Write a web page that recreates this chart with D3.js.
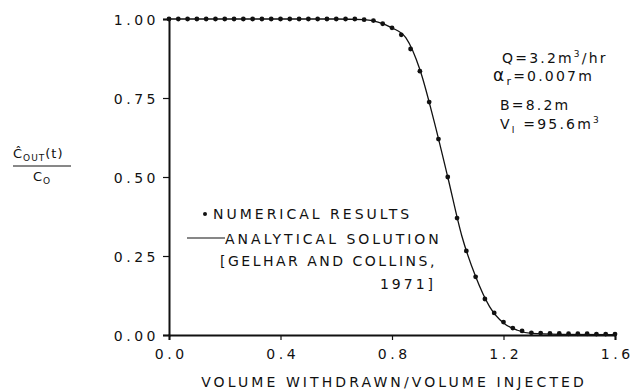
<!DOCTYPE html>
<html><head><meta charset="utf-8">
<script src="https://cdn.jsdelivr.net/npm/d3@7"></script>
<style>body{margin:0;background:#fff}svg{display:block}text{font-family:"DejaVu Sans",sans-serif;fill:#111}</style>
</head><body><svg id="c" width="634" height="391"></svg>
<script>
// Numerical results: x = k/30, k = 0..48
const numX = d3.range(49).map(k => k / 30);
const numY = [1,1,1,1,1,1,1,1,1,1,1,1,1,1,1,1,1,1,1,1,1,0.998,0.995,0.985,0.972,0.95,0.905,0.835,0.737,0.62,0.50,0.37,0.266,0.184,0.114,0.07,0.041,0.022,0.013,0.007,0.006,0.005,0.005,0.004,0.004,0.004,0.003,0.003,0.003];
// Analytical solution
const anaX = [0, 0.6, 0.7, 0.75, 0.8, 0.85, 0.9, 0.95, 1.0, 1.05, 1.1, 1.15, 1.2, 1.25, 1.3, 1.4, 1.6];
const anaY = [1, 1, 0.998, 0.99, 0.972, 0.94, 0.84, 0.68, 0.50, 0.315, 0.185, 0.09, 0.038, 0.015, 0.005, 0.002, 0.001];
const xTicks = [0.0, 0.4, 0.8, 1.2, 1.6];
const yTicks = [0.00, 0.25, 0.50, 0.75, 1.00];

const svg = d3.select("#c");
const x = d3.scaleLinear().domain([0, 1.6]).range([169, 615]);
const y = d3.scaleLinear().domain([0, 1]).range([335, 19]);

// axes
const ya = svg.append("g").attr("transform", "translate(169,0)")
  .call(d3.axisLeft(y).tickValues(yTicks).tickFormat(d3.format(".2f")).tickSize(6).tickPadding(4));
const xa = svg.append("g").attr("transform", "translate(0,335)")
  .call(d3.axisBottom(x).tickValues(xTicks).tickFormat(d3.format(".1f")).tickSize(5).tickPadding(6));
[ya, xa].forEach(g => {
  g.select(".domain").attr("stroke", "#111").attr("stroke-width", 2);
  g.selectAll(".tick line").attr("stroke", "#111").attr("stroke-width", 1.2);
  g.selectAll(".tick text").style("font-size", "14px").style("letter-spacing", "3.5px").attr("fill", "#111");
});
ya.selectAll(".tick text").attr("dy", "0.36em");
xa.selectAll(".tick text").attr("dy", "0.9em").attr("dx", "1.7px");

// analytical line
const line = d3.line().x((d, i) => x(anaX[i])).y(d => y(d)).curve(d3.curveMonotoneX);
svg.append("path").datum(anaY).attr("d", line).attr("fill", "none").attr("stroke", "#111").attr("stroke-width", 1.3);

// numerical dots
svg.append("g").selectAll("circle").data(numY).join("circle")
  .attr("cx", (d, i) => x(numX[i])).attr("cy", d => y(d)).attr("r", 2.4).attr("fill", "#111");

// legend
const lg = svg.append("g").style("font-size", "14px").style("letter-spacing", "3px");
lg.append("circle").attr("cx", 205).attr("cy", 214).attr("r", 2).attr("fill", "#111");
lg.append("text").attr("x", 213).attr("y", 219).text("NUMERICAL RESULTS");
lg.append("line").attr("x1", 187).attr("x2", 225).attr("y1", 238).attr("y2", 238).attr("stroke", "#111").attr("stroke-width", 1.2);
lg.append("text").attr("x", 225).attr("y", 244).text("ANALYTICAL SOLUTION");
lg.append("text").attr("x", 220).attr("y", 266).style("letter-spacing", "2.5px").text("[GELHAR AND COLLINS,");
lg.append("text").attr("x", 436).attr("y", 289).attr("text-anchor", "end").text("1971]");

// annotation
const an = svg.append("g").style("font-size", "14px").style("letter-spacing", "2.2px");
const t1 = an.append("text").attr("x", 502).attr("y", 63);
t1.append("tspan").text("Q=3.2m");
t1.append("tspan").attr("dy", -6).style("font-size", "9px").text("3");
t1.append("tspan").attr("dy", 6).text("/hr");
const t2 = an.append("text").attr("x", 493).attr("y", 81);
t2.append("tspan").style("font-size", "17px").text("α");
t2.append("tspan").attr("dy", 4).style("font-size", "11px").text("r");
t2.append("tspan").attr("dy", -4).text("=0.007m");
an.append("text").attr("x", 500).attr("y", 110).text("B=8.2m");
const t4 = an.append("text").attr("x", 500).attr("y", 129);
t4.append("tspan").text("V");
t4.append("tspan").attr("dy", 4).style("font-size", "9px").text("I");
t4.append("tspan").attr("dy", -4).text(" =95.6m");
t4.append("tspan").attr("dy", -6).style("font-size", "9px").text("3");

// y axis label (fraction)
const yl = svg.append("g").style("font-size", "13px").style("letter-spacing", "1px");
const n = yl.append("text").attr("x", 13).attr("y", 158);
n.append("tspan").text("Ĉ");
n.append("tspan").attr("dy", 3).style("font-size", "9px").text("OUT");
n.append("tspan").attr("dy", -3).text("(t)");
yl.append("line").attr("x1", 13).attr("x2", 71).attr("y1", 166).attr("y2", 166).attr("stroke", "#111").attr("stroke-width", 1);
const dn = yl.append("text").attr("x", 33).attr("y", 181);
dn.append("tspan").text("C");
dn.append("tspan").attr("dy", 3).style("font-size", "9px").text("O");

// x axis title
svg.append("text").attr("x", 394).attr("y", 387).attr("text-anchor", "middle")
  .style("font-size", "14px").style("letter-spacing", "3.1px").text("VOLUME WITHDRAWN/VOLUME INJECTED");
</script></body></html>
